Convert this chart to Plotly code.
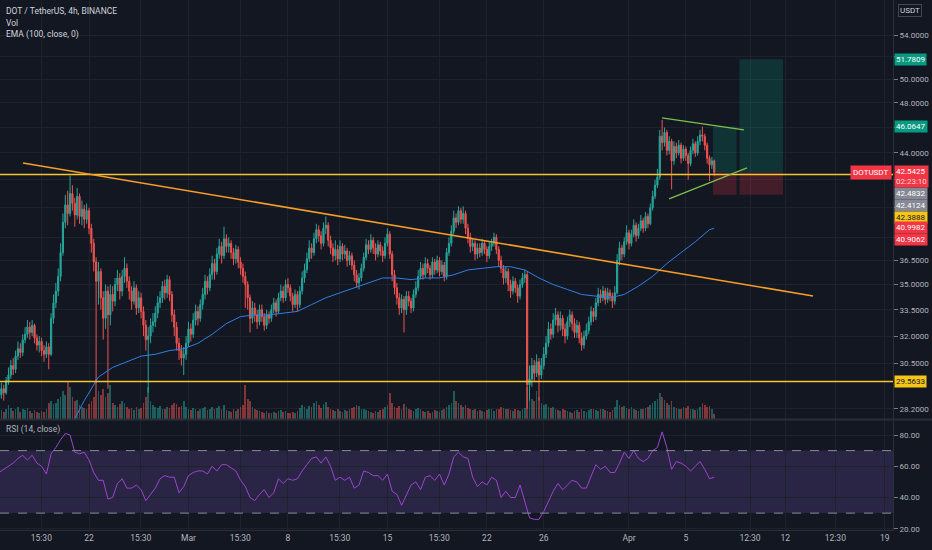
import math
import pandas as pd
import plotly.graph_objects as go

# ---------------- data ----------------
START = "2021-02-15 16:00"   # first 4h bar
FIRST_OPEN = 28.7

close = [
    28.9, 29.2, 29.0, 29.6, 29.9, 30.4,
    30.2, 30.9, 31.3, 31.1, 31.8, 32.1,
    32.5, 32.2, 32.6, 31.9, 31.5, 31.7,
    31.2, 31.0, 31.4, 31.0, 33.0, 33.9,
    34.6, 35.5, 37.0, 39.0, 40.2, 39.6,
    41.0, 40.3, 39.5, 40.8, 39.4, 39.9,
    39.2, 39.8, 38.6, 37.6, 36.4, 35.2,
    35.8, 34.2, 33.0, 34.6, 33.2, 34.4,
    34.0, 35.0, 35.4, 34.6, 35.5, 36.0,
    35.2, 34.6, 34.0, 34.8, 33.6, 34.2,
    33.4, 32.6, 31.8, 32.0, 32.6, 32.8,
    33.3, 33.9, 34.2, 34.9, 34.5, 35.3,
    34.4, 33.2, 32.5, 31.6, 31.2, 30.8,
    31.0, 31.6, 32.4, 32.1, 32.9, 33.4,
    33.0, 33.8, 34.4, 35.2, 34.8, 35.6,
    36.3, 35.8, 36.9, 37.4, 36.8, 37.9,
    37.4, 37.6, 37.0, 36.6, 37.2, 36.4,
    36.0, 35.5, 35.0, 34.2, 33.0, 33.6,
    33.2, 32.8, 33.5, 33.1, 32.6, 33.2,
    33.0, 33.5, 33.9, 33.4, 34.2, 34.6,
    34.2, 35.0, 34.8, 34.3, 33.8, 34.4,
    33.8, 34.6, 35.4, 35.9, 36.6, 37.3,
    37.0, 37.9, 38.5, 38.1, 37.6, 38.6,
    38.8, 37.8, 37.3, 36.8, 37.2, 36.6,
    37.4, 36.9, 37.1, 36.5, 36.8, 36.2,
    35.6, 35.1, 35.4, 36.0, 36.7, 37.5,
    37.2, 37.8, 37.3, 36.9, 37.5, 37.1,
    36.8, 37.6, 38.2, 36.9, 35.6, 34.8,
    34.2, 33.6, 34.1, 33.5, 34.3, 34.0,
    33.6, 34.4, 34.8, 35.5, 36.0, 35.6,
    36.3, 36.0, 35.6, 36.4, 35.9, 36.5,
    35.8, 36.2, 35.5, 37.0, 37.6, 38.4,
    39.3, 39.0, 39.8, 39.2, 39.6, 38.6,
    38.0, 37.4, 37.6, 36.9, 37.3, 37.0,
    37.6, 37.2, 36.8, 37.4, 37.6, 38.0,
    37.2, 36.5, 36.0, 35.4, 35.8, 35.0,
    34.6, 35.2, 34.8, 34.3, 35.0, 35.4,
    35.6, 29.4, 29.7, 30.4, 30.0, 30.6,
    29.9, 30.4, 31.0, 31.6, 32.4, 32.1,
    32.9, 33.2, 32.6, 33.0, 32.4, 32.0,
    32.8, 33.2, 32.7, 32.2, 32.6, 31.9,
    31.5, 32.0, 32.3, 32.8, 33.4, 33.1,
    33.9, 34.4, 34.2, 34.6, 34.1, 34.5,
    34.3, 34.0, 34.5, 36.5, 37.3, 36.9,
    37.7, 38.3, 37.6, 38.2, 38.8, 38.1,
    38.6, 39.1, 38.6, 39.4, 38.9, 40.0,
    40.8, 41.6, 42.2, 45.3, 44.8, 45.6,
    44.2, 44.9, 43.4, 44.5, 44.0, 44.6,
    43.6, 44.3, 43.8, 43.2, 44.2, 44.7,
    44.0, 44.9, 45.4, 45.3, 44.6, 43.6,
    43.1, 43.4, 42.5425,
]

high = [
    29.2, 29.5, 29.4, 29.8, 30.3, 30.7,
    30.8, 31.2, 31.7, 31.6, 32.1, 32.5,
    32.9, 32.8, 32.9, 32.7, 32.1, 32.0,
    31.9, 31.5, 31.7, 31.6, 33.3, 34.4,
    35.1, 36.0, 37.6, 39.6, 40.9, 41.2,
    42.3, 41.6, 40.7, 41.4, 41.0, 40.5,
    40.2, 40.3, 40.0, 38.9, 37.9, 36.7,
    36.4, 36.0, 34.6, 35.0, 34.9, 35.0,
    34.9, 35.4, 35.9, 35.7, 35.9, 36.7,
    36.3, 35.5, 34.9, 35.2, 35.0, 34.6,
    34.5, 33.7, 32.9, 32.5, 33.0, 33.3,
    33.7, 34.3, 34.6, 35.2, 35.3, 35.6,
    35.5, 34.6, 33.5, 32.8, 31.9, 31.5,
    31.4, 32.0, 32.8, 32.7, 33.3, 33.8,
    33.7, 34.1, 34.8, 35.6, 35.5, 36.0,
    36.8, 36.6, 37.3, 37.9, 37.7, 38.7,
    38.2, 38.0, 37.8, 37.3, 37.5, 37.4,
    36.7, 36.3, 35.8, 35.2, 34.4, 34.0,
    33.9, 33.5, 33.8, 33.8, 33.3, 33.5,
    33.4, 33.8, 34.2, 34.1, 34.5, 35.0,
    34.9, 35.3, 35.4, 35.0, 34.5, 34.7,
    34.6, 34.9, 35.8, 36.3, 37.0, 37.8,
    37.6, 38.3, 38.9, 38.8, 38.4, 39.0,
    39.4, 39.0, 38.1, 37.6, 37.8, 37.5,
    37.8, 37.6, 37.5, 37.3, 37.1, 37.0,
    36.5, 35.9, 35.7, 36.3, 37.0, 37.9,
    37.8, 38.2, 38.0, 37.6, 37.8, 37.7,
    37.4, 38.0, 38.6, 38.4, 37.1, 35.9,
    35.1, 34.5, 34.4, 34.3, 34.6, 34.6,
    34.2, 34.7, 35.2, 35.9, 36.4, 36.3,
    36.7, 36.6, 36.2, 36.7, 36.6, 36.8,
    36.7, 36.5, 36.4, 37.3, 38.0, 38.8,
    39.8, 39.6, 40.1, 40.0, 40.1, 39.8,
    38.9, 38.3, 37.9, 37.8, 37.6, 37.6,
    37.9, 37.8, 37.4, 37.7, 37.9, 38.3,
    38.2, 37.4, 36.8, 36.2, 36.1, 36.0,
    35.3, 35.5, 35.4, 35.0, 35.3, 35.7,
    35.9, 35.8, 30.4, 30.8, 30.7, 31.0,
    30.8, 30.8, 31.4, 32.0, 32.8, 32.7,
    33.3, 33.6, 33.4, 33.4, 33.2, 32.7,
    33.1, 33.5, 33.4, 33.0, 32.9, 32.8,
    32.2, 32.3, 32.7, 33.1, 33.7, 33.6,
    34.2, 34.8, 34.7, 34.9, 34.8, 34.8,
    34.7, 34.5, 34.9, 36.9, 37.7, 37.5,
    38.0, 38.8, 38.5, 38.5, 39.2, 39.0,
    38.9, 39.5, 39.3, 39.7, 39.6, 40.3,
    41.2, 42.0, 42.8, 45.8, 46.6, 46.0,
    45.8, 45.3, 45.1, 44.9, 44.8, 45.0,
    44.8, 44.6, 44.5, 44.0, 44.5, 45.1,
    44.9, 45.3, 45.8, 46.06, 45.5, 44.8,
    43.8, 43.7, 43.5,
]

low = [
    28.4, 28.7, 28.6, 28.9, 29.4, 29.7,
    29.9, 30.0, 30.7, 30.8, 30.9, 31.6,
    31.9, 31.8, 32.0, 31.6, 31.2, 31.1,
    30.9, 30.6, 30.8, 30.2, 30.9, 32.7,
    33.6, 34.3, 35.2, 36.8, 38.6, 38.8,
    39.4, 39.8, 38.7, 39.2, 38.9, 38.8,
    38.6, 38.9, 38.2, 37.0, 35.8, 29.5,
    33.8, 33.5, 31.8, 32.4, 29.2, 32.6,
    33.4, 33.7, 34.6, 34.1, 34.3, 35.1,
    34.8, 34.1, 33.5, 33.8, 33.2, 33.3,
    33.0, 32.0, 31.2, 29.0, 31.6, 32.2,
    32.5, 33.0, 33.6, 33.9, 34.1, 34.2,
    34.0, 32.8, 32.0, 31.2, 30.7, 30.4,
    29.9, 30.7, 31.4, 31.7, 31.9, 32.6,
    32.6, 32.8, 33.5, 34.1, 34.4, 34.6,
    35.3, 35.3, 35.6, 36.6, 36.3, 36.6,
    37.0, 37.0, 36.6, 36.2, 36.3, 36.0,
    35.6, 35.1, 33.6, 33.5, 32.2, 32.7,
    32.8, 32.4, 32.6, 32.8, 32.3, 32.4,
    32.7, 32.8, 33.3, 33.1, 33.3, 34.0,
    33.9, 34.0, 34.5, 34.0, 33.4, 33.6,
    33.4, 33.6, 34.4, 35.1, 35.7, 36.4,
    36.6, 36.8, 37.6, 37.7, 37.2, 37.4,
    38.2, 37.4, 36.9, 36.4, 36.5, 36.2,
    36.4, 36.5, 36.6, 36.1, 36.2, 35.9,
    35.2, 34.8, 34.7, 35.2, 35.8, 36.5,
    36.9, 37.0, 36.9, 36.5, 36.7, 36.8,
    36.4, 36.6, 37.4, 36.6, 35.2, 34.4,
    33.8, 33.2, 33.3, 32.2, 33.2, 33.7,
    33.3, 33.4, 34.2, 34.6, 35.3, 35.3,
    35.4, 35.7, 35.3, 35.4, 35.6, 35.7,
    35.5, 35.6, 35.2, 35.3, 36.8, 37.4,
    38.2, 38.6, 38.8, 38.9, 38.9, 38.2,
    37.6, 37.0, 37.1, 36.5, 36.6, 36.7,
    36.8, 36.9, 36.4, 36.6, 37.1, 37.4,
    36.9, 36.1, 35.7, 35.0, 35.1, 34.6,
    34.2, 34.4, 34.5, 33.9, 34.1, 34.8,
    35.1, 28.2, 28.6, 29.3, 29.6, 29.8,
    28.6, 29.7, 30.2, 30.8, 31.4, 31.8,
    31.9, 32.6, 32.2, 32.3, 32.0, 31.6,
    31.8, 32.5, 32.3, 31.9, 31.9, 31.6,
    31.2, 31.3, 31.8, 32.1, 32.6, 32.8,
    32.9, 33.7, 33.9, 34.0, 33.8, 33.9,
    34.0, 33.6, 33.8, 34.4, 36.2, 36.5,
    36.7, 37.5, 37.2, 37.4, 38.0, 37.7,
    37.9, 38.4, 38.3, 38.4, 38.6, 38.8,
    39.8, 40.6, 41.4, 42.0, 44.2, 44.5,
    43.8, 43.9, 41.3, 43.1, 43.6, 43.8,
    43.2, 43.4, 43.4, 42.0, 43.0, 43.9,
    43.7, 43.8, 44.6, 44.9, 44.2, 43.2,
    41.9, 42.8, 42.3,
]

volume = [
    30, 22, 18, 25, 35, 28,
    20, 24, 30, 18, 26, 22,
    28, 20, 16, 22, 18, 15,
    20, 17, 24, 40, 45, 38,
    40, 50, 55, 70, 60, 95,
    80, 55, 45, 48, 35, 30,
    28, 25, 38, 45, 55, 100,
    70, 60, 75, 55, 65, 85,
    40, 35, 30, 38, 45, 40,
    30, 25, 28, 22, 30, 26,
    28, 40, 55, 80, 45, 35,
    30, 28, 32, 26, 24, 30,
    28, 35, 40, 38, 30, 32,
    45, 30, 26, 22, 28, 24,
    20, 24, 28, 30, 22, 26,
    30, 24, 28, 32, 26, 35,
    22, 20, 18, 24, 20, 26,
    30, 35, 85, 50, 45, 30,
    26, 22, 20, 18, 16, 20,
    15, 14, 18, 16, 20, 22,
    18, 20, 16, 14, 18, 15,
    20, 28, 35, 30, 26, 32,
    30, 40, 45, 35, 28, 38,
    42, 30, 25, 22, 20, 24,
    20, 18, 22, 20, 24, 28,
    30, 35, 32, 26, 24, 22,
    20, 18, 16, 20, 18, 22,
    24, 30, 35, 65, 40, 30,
    28, 32, 26, 38, 30, 24,
    22, 20, 26, 28, 24, 20,
    18, 20, 16, 18, 22, 20,
    18, 22, 24, 30, 35, 40,
    70, 45, 40, 35, 30, 34,
    28, 25, 22, 24, 20, 22,
    20, 18, 22, 24, 26, 20,
    24, 26, 30, 28, 24, 26,
    22, 20, 24, 22, 20, 24,
    28, 80, 60, 50, 45, 70,
    55, 40, 35, 38, 30, 28,
    30, 26, 22, 20, 24, 22,
    20, 18, 16, 20, 22, 18,
    24, 20, 18, 22, 24, 26,
    22, 20, 26, 24, 22, 20,
    18, 22, 30, 48, 35, 30,
    32, 28, 26, 30, 24, 22,
    20, 26, 24, 28, 30, 35,
    40, 45, 50, 65, 55, 48,
    40, 35, 45, 30, 28, 25,
    24, 30, 28, 32, 26, 24,
    22, 26, 30, 40, 35, 30,
    32, 24, 12,
]

# RSI(14) read every 2nd bar
rsi_14 = [
    56, 58, 60, 62, 65, 67, 64, 67, 62, 60,
    55, 68, 72, 77, 81, 80, 69, 68, 69, 64,
    56, 51, 51, 39, 40, 49, 52, 46, 46, 48,
    45, 38, 42, 46, 52, 54, 53, 53, 43, 47,
    54, 56, 57, 57, 55, 60, 57, 61, 61, 59,
    57, 51, 47, 40, 38, 42, 45, 40, 43, 52,
    49, 52, 51, 52, 57, 61, 65, 66, 62, 66,
    60, 51, 53, 51, 53, 46, 48, 57, 56, 54,
    54, 51, 55, 44, 42, 35, 41, 48, 50, 45,
    53, 54, 51, 55, 48, 55, 66, 69, 66, 65,
    53, 47, 50, 48, 53, 51, 40, 44, 40, 40,
    48, 38, 27, 26, 26, 31, 38, 44, 49, 45,
    48, 51, 50, 46, 46, 54, 61, 58, 60, 56,
    56, 62, 69, 65, 70, 65, 63, 65, 70, 72,
    82, 72, 58, 63, 62, 60, 57, 60, 63, 58,
    52, 53,
]

# EMA(100) read every 6th bar, plus the last bar
ema_100 = [
    23.6, 24.3, 25.0, 25.7, 26.4, 27.3, 28.6, 29.8, 30.3, 30.6,
    30.9, 31.0, 31.2, 31.3, 31.6, 32.1, 32.7, 33.1, 33.2, 33.2,
    33.3, 33.4, 33.8, 34.2, 34.5, 34.8, 35.1, 35.4, 35.4, 35.3,
    35.4, 35.4, 35.6, 35.9, 36.0, 36.1, 36.1, 35.9, 35.4, 35.0,
    34.7, 34.4, 34.3, 34.2, 34.4, 34.9, 35.5, 36.3, 37.0, 37.7,
    38.5, 38.6,
]

x_tick_times = ["2021-02-18 15:30", "2021-02-22", "2021-02-25 15:30", "2021-03-01",
                "2021-03-04 15:30", "2021-03-08", "2021-03-11 15:30", "2021-03-15",
                "2021-03-18 15:30", "2021-03-22", "2021-03-26", "2021-04-01",
                "2021-04-05", "2021-04-09 12:30", "2021-04-12", "2021-04-15 12:30",
                "2021-04-19"]
x_tick_labels = ["15:30", "22", "15:30", "Mar", "15:30", "8", "15:30", "15",
                 "15:30", "22", "26", "Apr", "5", "12:30", "12", "12:30", "19"]

price_ticks = [54, 52, 50, 48, 46, 44, 42, 40, 38, 36.5, 35, 33.5, 32, 30.5, 28.2]
price_tick_labels = ["54.0000", "", "50.0000", "48.0000", "", "44.0000", "", "", "",
                     "36.5000", "35.0000", "33.5000", "32.0000", "30.5000", "28.2000"]
rsi_ticks = [20, 40, 60, 80]
rsi_tick_labels = ["20.00", "40.00", "60.00", "80.00"]

hline_levels = [42.3888, 29.5633]
trend_orange_t = ["2021-02-17 08:30", "2021-04-13 22:50"]
trend_orange_p = [43.24, 34.31]
wedge_top_t = ["2021-04-03 07:40", "2021-04-09 02:10"]
wedge_top_p = [46.76, 45.80]
wedge_bot_t = ["2021-04-03 19:40", "2021-04-09 07:20"]
wedge_bot_p = [40.62, 42.87]
pos_t = ["2021-04-06 21:50", "2021-04-08 13:50", "2021-04-08 18:40", "2021-04-11 20:10"]
pos_entry, pos_target, pos_stop, pos_reached = 42.5425, 51.7809, 40.9062, 46.0647

axis_label_values = [51.7809, 46.0647, 42.4832, 42.4124, 42.3888, 40.9982, 40.9062, 29.5633]
axis_label_colors = ["#089981", "#089981", "#868993", "#868993", "#f5c518", "#f23645", "#f23645", "#f5c518"]
axis_label_fonts = ["#ffffff", "#ffffff", "#ffffff", "#ffffff", "#131722", "#ffffff", "#ffffff", "#131722"]
axis_label_shift = [0, 0, -20, -31, -43, -34, -45, 0]
last_price = 42.5425
countdown = "02:23:10"

# ---------------- styling ----------------
BG = "#131722"
GRID = "#1e222d"
BORDER = "#2a2e39"
TXT = "#b2b5be"
UP = "#26a69a"
DN = "#ef5350"
FONT = "Roboto"
FS = 8

times = pd.date_range(START, periods=len(close), freq="4h")
opens = [FIRST_OPEN] + close[:-1]
highs = [max(h, o, c) for h, o, c in zip(high, opens, close)]
lows = [min(l, o, c) for l, o, c in zip(low, opens, close)]
vol_colors = ["rgba(38,166,154,0.5)" if c >= o else "rgba(239,83,80,0.5)" for o, c in zip(opens, close)]
rsi_times = times[::2]
ema_idx = list(range(0, len(close), 6))
if ema_idx[-1] != len(close) - 1:
    ema_idx.append(len(close) - 1)
ema_times = [times[i] for i in ema_idx]

x_range = ["2021-02-15 17:41", "2021-04-19 13:55"]
x_full = ["2021-02-15 12:00", "2021-04-20 00:00"]

fig = go.Figure()

# volume (base axis y, hidden)
fig.add_trace(go.Bar(x=times, y=volume, marker=dict(color=vol_colors, line=dict(width=0)),
                     width=4 * 3600 * 1000 * 0.7, xaxis="x", yaxis="y", hoverinfo="skip"))

# candles on price axis y3
fig.add_trace(go.Candlestick(
    x=times, open=opens, high=highs, low=lows, close=close, xaxis="x", yaxis="y3",
    increasing=dict(line=dict(color=UP, width=1), fillcolor=UP),
    decreasing=dict(line=dict(color=DN, width=1), fillcolor=DN),
    whiskerwidth=0, hoverinfo="skip"))

# EMA
fig.add_trace(go.Scatter(x=ema_times, y=ema_100, mode="lines", line=dict(color="#2f7fe6", width=1),
                         xaxis="x", yaxis="y3", hoverinfo="skip"))

# position tool boxes
t0, t1, t2, t3 = pos_t
fig.add_trace(go.Scatter(x=[t2, t3, t3, t2, t2], y=[pos_entry, pos_entry, pos_target, pos_target, pos_entry],
                         fill="toself", fillcolor="rgba(8,153,129,0.22)", line=dict(width=0),
                         mode="lines", xaxis="x", yaxis="y3", hoverinfo="skip"))
fig.add_trace(go.Scatter(x=[t0, t1, t1, t0, t0], y=[pos_entry, pos_entry, pos_reached, pos_reached, pos_entry],
                         fill="toself", fillcolor="rgba(8,153,129,0.22)", line=dict(width=0),
                         mode="lines", xaxis="x", yaxis="y3", hoverinfo="skip"))
for a, b in [(t0, t1), (t2, t3)]:
    fig.add_trace(go.Scatter(x=[a, b, b, a, a], y=[pos_stop, pos_stop, pos_entry, pos_entry, pos_stop],
                             fill="toself", fillcolor="rgba(242,54,69,0.22)", line=dict(width=0),
                             mode="lines", xaxis="x", yaxis="y3", hoverinfo="skip"))

# horizontal levels
for lvl in hline_levels:
    fig.add_trace(go.Scatter(x=x_full, y=[lvl, lvl], mode="lines", line=dict(color="#f7c531", width=1.5),
                             xaxis="x", yaxis="y3", hoverinfo="skip"))

# drawn trend lines
fig.add_trace(go.Scatter(x=trend_orange_t, y=trend_orange_p, mode="lines",
                         line=dict(color="#f59d26", width=1.6), xaxis="x", yaxis="y3", hoverinfo="skip"))
for tt, pp in [(wedge_top_t, wedge_top_p), (wedge_bot_t, wedge_bot_p)]:
    fig.add_trace(go.Scatter(x=tt, y=pp, mode="lines", line=dict(color="#7cc04b", width=1.3),
                             xaxis="x", yaxis="y3", hoverinfo="skip"))

# RSI
fig.add_trace(go.Scatter(x=rsi_times, y=rsi_14, mode="lines", line=dict(color="#9b45cf", width=1),
                         xaxis="x2", yaxis="y2", hoverinfo="skip"))

MAIN_BOTTOM = 1 - 419 / 530
RSI_TOP = 1 - 420 / 530

shapes = []
shapes.append(dict(type="rect", xref="paper", x0=0, x1=1, yref="y2", y0=30, y1=70,
                   fillcolor="rgba(126,87,194,0.22)", line=dict(width=0), layer="below"))
for lvl in (70, 30):
    shapes.append(dict(type="line", xref="paper", x0=0, x1=1, yref="y2", y0=lvl, y1=lvl,
                       line=dict(color="#8a8d96", width=1, dash="dash"), layer="above"))
shapes.append(dict(type="line", xref="paper", x0=0, x1=1.05, yref="paper",
                   y0=(MAIN_BOTTOM + RSI_TOP) / 2, y1=(MAIN_BOTTOM + RSI_TOP) / 2,
                   line=dict(color=BORDER, width=2)))

ann = []
legend_lines = [("DOT / TetherUS, 4h, BINANCE", -10.5), ("Vol", -22.5), ("EMA (100, close, 0)", -34)]
for txt, ys in legend_lines:
    ann.append(dict(text=txt, xref="paper", yref="paper", x=0, y=1, xanchor="left", yanchor="middle",
                    xshift=4, yshift=ys, showarrow=False, font=dict(color="#d1d4dc", size=FS + 0.5, family=FONT)))
ann.append(dict(text="RSI (14, close)", xref="paper", yref="paper", x=0, y=RSI_TOP, xanchor="left",
                yanchor="middle", xshift=4, yshift=-9.5, showarrow=False,
                font=dict(color="#b2b5be", size=FS + 0.5, family=FONT)))
for v, bg, fc, sh in zip(axis_label_values, axis_label_colors, axis_label_fonts, axis_label_shift):
    ann.append(dict(text=f"{v:.4f}", xref="paper", yref="y3", x=1, y=math.log10(v), xanchor="left",
                    yanchor="middle", xshift=1, yshift=sh, showarrow=False, bgcolor=bg, borderpad=1,
                    font=dict(color=fc, size=FS, family=FONT)))
ann.append(dict(text=f"{last_price:.4f}<br><span style='color:#fcd6d9'>{countdown}</span>",
                xref="paper", yref="y3", x=1, y=math.log10(last_price), xanchor="left", yanchor="top",
                xshift=1, yshift=7, showarrow=False, bgcolor="#f23645", borderpad=1, align="left",
                font=dict(color="#ffffff", size=FS, family=FONT)))
ann.append(dict(text="DOTUSDT", xref="paper", yref="y3", x=1, y=math.log10(last_price), xanchor="right",
                yanchor="middle", xshift=-1, showarrow=False, bgcolor="#f23645", borderpad=2,
                font=dict(color="#ffffff", size=FS, family=FONT)))
ann.append(dict(text="USDT", xref="paper", yref="paper", x=1, y=1, xanchor="left", yanchor="top",
                xshift=5, yshift=-4, showarrow=False, bordercolor="#434651", borderwidth=1, borderpad=1,
                font=dict(color="#d1d4dc", size=FS, family=FONT)))

fig.update_layout(
    width=932, height=550,
    margin=dict(l=0, r=39, t=0, b=20),
    paper_bgcolor=BG, plot_bgcolor=BG,
    showlegend=False, template="none",
    font=dict(family=FONT, color=TXT, size=FS),
    bargap=0,
    xaxis=dict(domain=[0, 1], anchor="y", type="date", range=x_range, tickvals=x_tick_times,
               ticktext=x_tick_labels, showticklabels=False, showgrid=True, gridcolor=GRID,
               gridwidth=1, zeroline=False, rangeslider=dict(visible=False), showline=False),
    yaxis=dict(domain=[MAIN_BOTTOM, 1], anchor="x", range=[0, 1050], visible=False,
               showgrid=False, fixedrange=True),
    yaxis3=dict(overlaying="y", anchor="x", side="right", type="log",
                range=[math.log10(27.70), math.log10(57.41)],
                tickvals=price_ticks, ticktext=price_tick_labels, showgrid=True, gridcolor=GRID,
                ticks="outside", ticklen=4, tickcolor="#787b86", showline=True, linecolor=BORDER,
                linewidth=1, zeroline=False, automargin=False,
                tickfont=dict(color=TXT, size=FS, family=FONT)),
    xaxis2=dict(domain=[0, 1], anchor="y2", type="date", range=x_range, matches="x",
                tickvals=x_tick_times, ticktext=x_tick_labels, showgrid=True, gridcolor=GRID,
                ticks="", showline=True, linecolor=BORDER, zeroline=False, automargin=False,
                tickfont=dict(color=TXT, size=FS + 0.5, family=FONT), rangeslider=dict(visible=False)),
    yaxis2=dict(domain=[0, RSI_TOP], anchor="x2", side="right", range=[19.2, 89.6],
                tickvals=rsi_ticks, ticktext=rsi_tick_labels, showgrid=True, gridcolor=GRID,
                ticks="outside", ticklen=4, tickcolor="#787b86", showline=True, linecolor=BORDER,
                zeroline=False, automargin=False, tickfont=dict(color=TXT, size=FS, family=FONT)),
    shapes=shapes,
    annotations=ann,
)

fig.write_html("out.html", config={"displayModeBar": False},
               post_script="document.body.style.margin='0';document.body.style.background='#131722';")
